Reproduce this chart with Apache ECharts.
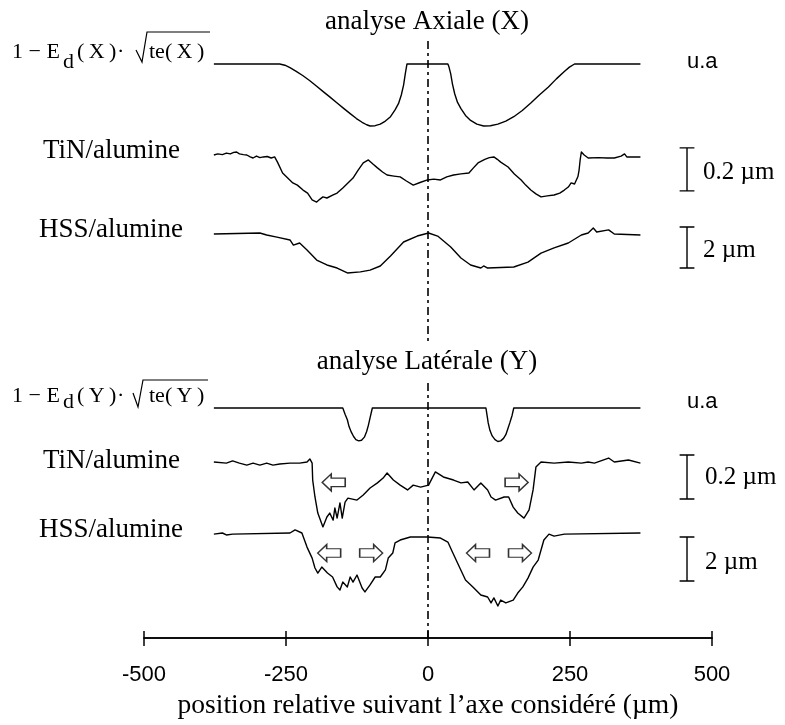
<!DOCTYPE html>
<html><head><meta charset="utf-8">
<script src="https://cdn.jsdelivr.net/npm/echarts@6/dist/echarts.min.js"></script>
<style>html,body{margin:0;padding:0;background:#fff}#c{width:785px;height:725px}</style>
</head><body><div id="c"></div>
<script>
// ---------- DATA ----------
// x : position relative (µm)
const xTickLabels = ['-500', '-250', '0', '250', '500'];

// 1 - Ed(X)*sqrt(te(X))  (u.a)
const edAxial = [[-377,1],[-261,1],[-252,0.98],[-243,0.94],[-232,0.88],[-220,0.81],[-208,0.73],[-196,0.64],[-184,0.55],[-173,0.47],[-160,0.37],[-148,0.28],[-137,0.2],[-126,0.12],[-116,0.06],[-108,0.02],[-102,0],[-93,0.005],[-84,0.03],[-75,0.08],[-66,0.15],[-58,0.26],[-52,0.36],[-47,0.5],[-43,0.66],[-40,0.84],[-38,0.95],[-37,1],[35,1],[37,0.95],[40,0.84],[43,0.68],[47,0.52],[52,0.38],[58,0.28],[66,0.17],[75,0.09],[86,0.03],[98,0],[110,0.005],[123,0.03],[137,0.08],[151,0.15],[166,0.25],[181,0.37],[196,0.5],[212,0.63],[226,0.76],[240,0.88],[249,0.95],[258,1],[374,1]];

// TiN/alumine, axial (µm)
const tinAxial = [[-377,0],[-370,0.005],[-362,0.002],[-355,0.009],[-348,0.005],[-342,0.012],[-337,0.014],[-332,0.005],[-325,0.002],[-319,0],[-313,-0.009],[-308,-0.014],[-302,-0.005],[-296,-0.012],[-290,-0.009],[-283,-0.007],[-276,-0.014],[-270,-0.009],[-265,-0.033],[-256,-0.084],[-247,-0.107],[-238,-0.13],[-230,-0.14],[-220,-0.163],[-212,-0.177],[-204,-0.209],[-196,-0.219],[-190,-0.205],[-185,-0.195],[-178,-0.2],[-167,-0.186],[-160,-0.177],[-150,-0.153],[-141,-0.13],[-132,-0.107],[-123,-0.07],[-114,-0.037],[-105,-0.023],[-97,-0.042],[-89,-0.06],[-80,-0.079],[-72,-0.093],[-60,-0.098],[-49,-0.102],[-38,-0.121],[-26,-0.14],[-14,-0.128],[-1,-0.116],[10,-0.112],[22,-0.116],[33,-0.102],[45,-0.093],[58,-0.088],[72,-0.084],[80,-0.06],[88,-0.037],[100,-0.02],[108,-0.012],[116,-0.009],[122,-0.02],[128,-0.033],[141,-0.056],[152,-0.088],[164,-0.116],[172,-0.14],[181,-0.163],[190,-0.181],[199,-0.195],[210,-0.19],[222,-0.186],[232,-0.177],[240,-0.163],[247,-0.149],[252,-0.13],[258,-0.135],[261,-0.13],[264,-0.1],[266,-0.07],[268,-0.02],[270,0.014],[275,0],[282,-0.014],[300,-0.012],[315,-0.014],[328,-0.014],[340,-0.005],[346,0.005],[350,-0.009],[374,-0.009]];

// HSS/alumine, axial (µm)
const hssAxial = [[-377,0],[-296,0.05],[-284,-0.05],[-266,-0.15],[-243,-0.29],[-237,-0.54],[-226,-0.44],[-213,-0.78],[-196,-1.27],[-178,-1.51],[-160,-1.66],[-142,-1.9],[-119,-1.85],[-102,-1.76],[-84,-1.56],[-66,-1.07],[-43,-0.39],[-19,-0.1],[1,0.05],[17,-0.1],[40,-0.63],[58,-1.17],[75,-1.51],[93,-1.66],[98,-1.56],[105,-1.66],[151,-1.61],[176,-1.37],[199,-0.93],[222,-0.68],[247,-0.44],[270,-0.05],[282,0.05],[291,0.29],[297,0.1],[318,0.2],[328,0],[374,-0.05]];

// 1 - Ed(Y)*sqrt(te(Y))  (u.a)
const edLateral = [[-377,1],[-150,1],[-146,0.9],[-142,0.81],[-139,0.7],[-135,0.61],[-131,0.54],[-127,0.49],[-122,0.47],[-117,0.48],[-112,0.53],[-108,0.62],[-105,0.72],[-102,0.84],[-98,1],[102,1],[104,0.88],[106,0.76],[109,0.64],[113,0.55],[118,0.49],[123,0.46],[128,0.47],[133,0.51],[137,0.57],[140,0.65],[144,0.76],[148,0.88],[151,1],[374,1]];

// TiN/alumine, lateral (µm)
const tinLateral = [[-377,0],[-355,-0.005],[-344,0.005],[-332,-0.005],[-319,-0.014],[-308,-0.005],[-296,-0.014],[-284,-0.005],[-273,-0.014],[-261,-0.009],[-243,-0.005],[-226,-0.005],[-213,0],[-208,0.014],[-204,-0.005],[-203,-0.082],[-199,-0.159],[-194,-0.232],[-185,-0.295],[-178,-0.25],[-173,-0.232],[-167,-0.264],[-164,-0.209],[-160,-0.255],[-155,-0.186],[-151,-0.255],[-146,-0.182],[-141,-0.164],[-125,-0.173],[-114,-0.15],[-102,-0.118],[-89,-0.095],[-79,-0.073],[-72,-0.05],[-61,-0.082],[-49,-0.105],[-36,-0.127],[-26,-0.105],[-13,-0.114],[1,-0.105],[13,-0.045],[27,-0.068],[45,-0.082],[58,-0.095],[70,-0.091],[81,-0.127],[93,-0.095],[105,-0.127],[111,-0.159],[119,-0.173],[134,-0.159],[142,-0.159],[150,-0.205],[158,-0.232],[169,-0.255],[178,-0.218],[185,-0.127],[190,-0.023],[199,0],[222,-0.005],[247,0],[270,-0.005],[282,0],[293,-0.005],[318,0.018],[328,0],[353,0.009],[374,-0.005]];

// HSS/alumine, lateral (µm)
const hssLateral = [[-377,-0.05],[-362,0],[-355,-0.09],[-344,-0.05],[-243,0],[-234,0.14],[-222,0],[-213,-0.64],[-204,-1.14],[-199,-1.59],[-194,-1.82],[-187,-1.55],[-177,-1.82],[-168,-2],[-160,-2.45],[-155,-2.59],[-150,-2.23],[-142,-2.45],[-137,-2],[-132,-2.23],[-125,-1.91],[-116,-2.5],[-111,-2.68],[-102,-2.36],[-93,-2],[-84,-2],[-75,-1.68],[-70,-1.14],[-62,-0.91],[-58,-0.45],[-49,-0.32],[-31,-0.18],[-1,-0.18],[22,-0.23],[35,-0.41],[43,-0.86],[52,-1.36],[66,-2.14],[79,-2.45],[93,-2.82],[105,-2.91],[111,-3.18],[116,-2.95],[123,-3.32],[128,-3.05],[137,-3.18],[150,-3.05],[158,-2.73],[167,-2.45],[176,-2.05],[185,-1.55],[194,-1.23],[199,-0.77],[204,-0.32],[213,-0.05],[222,-0.14],[240,-0.05],[374,0]];

// arrows (x positions, µm)
const tinLatArrowsLeft = [-166];
const tinLatArrowsRight = [156];
const hssLatArrowsLeft = [-174, 88];
const hssLatArrowsRight = [-100, 162];

// scale bars (length in each row's unit)
const scaleBarLengths = [0.2, 2, 0.2, 2];

// texts
const titles = ['analyse Axiale (X)', 'analyse Latérale (Y)'];
const rowLabels = ['TiN/alumine', 'HSS/alumine'];
const scaleLabels = ['0.2 µm', '2 µm'];
const unitLabel = 'u.a';
const xAxisName = 'position relative suivant l\u2019axe considéré (µm)';

// ---------- LAYOUT ----------
const L = 144, W = 568;
const rows = [
  {top: 64,     height: 62,   min: 0,     max: 1,    data: edAxial},
  {top: 144.25, height: 64.5, min: -0.25, max: 0.05, data: tinAxial},
  {top: 223.75, height: 61.5, min: -2.5,  max: 0.5,  data: hssAxial},
  {top: 408,    height: 62,   min: 0,     max: 1,    data: edLateral},
  {top: 451,    height: 77,   min: -0.3,  max: 0.05, data: tinLateral},
  {top: 522,    height: 88,   min: -3.5,  max: 0.5,  data: hssLateral}
];
const barX = 456, capHalf = 13;
const bars = [ {row: 1, top: 0.033}, {row: 2, top: 0.34}, {row: 4, top: 0.032}, {row: 5, top: -0.18} ];

const serif = '"Liberation Serif", "Times New Roman", serif';
const sans = '"Liberation Sans", Arial, sans-serif';

const grids = [], xAxes = [], yAxes = [], series = [];
rows.forEach((r, i) => {
  grids.push({left: L, width: W, top: r.top, height: r.height, outerBoundsMode: 'none'});
  xAxes.push({gridIndex: i, type: 'value', min: -500, max: 500, show: false});
  yAxes.push({gridIndex: i, type: 'value', min: r.min, max: r.max, show: false});
  series.push({
    type: 'line', xAxisIndex: i, yAxisIndex: i, data: r.data, showSymbol: false, clip: false,
    lineStyle: {color: '#000', width: 1.4, join: 'round'}, silent: true, z: 3
  });
});
// axis grid
grids.push({left: L, width: W, top: 40, height: 598, outerBoundsMode: 'none'});
const axisCommon = {gridIndex: 6, type: 'value', min: -500, max: 500, interval: 250, position: 'bottom',
  splitLine: {show: false},
  axisLine: {show: true, onZero: false, lineStyle: {color: '#000', width: 1.5}}};
xAxes.push(Object.assign({}, axisCommon, {
  axisTick: {show: true, inside: false, length: 8, lineStyle: {color: '#000', width: 1.5}},
  axisLabel: {show: true, margin: 26, fontFamily: sans, fontSize: 22, color: '#000',
    formatter: (v) => xTickLabels[Math.round((v + 500) / 250)]},
  name: xAxisName, nameLocation: 'middle', nameGap: 54,
  nameTextStyle: {fontFamily: serif, fontSize: 27.5, color: '#000'}
}));
xAxes.push(Object.assign({}, axisCommon, {
  axisTick: {show: true, inside: true, length: 7, lineStyle: {color: '#000', width: 1.5}},
  axisLabel: {show: false}
}));
yAxes.push({gridIndex: 6, type: 'value', min: 0, max: 1, show: false});

// dash-dot reference line at x = 0
series.push({type: 'line', xAxisIndex: 6, yAxisIndex: 6, data: [[0, 0], [0, 1]], showSymbol: false,
  lineStyle: {color: '#000', width: 1.6, type: [8, 4, 3, 4]}, silent: true, z: 2});

// scale bars
bars.forEach((b, k) => {
  const t = b.top, bt = b.top - scaleBarLengths[k];
  series.push({type: 'line', xAxisIndex: b.row, yAxisIndex: b.row, showSymbol: false, clip: false, silent: true,
    data: [[barX - capHalf, t], [barX + capHalf, t], [barX, t], [barX, bt], [barX - capHalf, bt], [barX + capHalf, bt]],
    lineStyle: {color: '#000', width: 1.4}});
});

// arrows
const leftArrow = 'path://M0,8L9,0L9,4L23,4L23,12L9,12L9,16Z';
const rightArrow = 'path://M23,8L14,0L14,4L0,4L0,12L14,12L14,16Z';
function arrows(xs, row, level, sym) {
  series.push({type: 'scatter', xAxisIndex: row, yAxisIndex: row, data: xs.map(x => [x, level]),
    symbol: sym, symbolSize: [23, 17], silent: true, clip: false, z: 4,
    itemStyle: {color: '#fff', borderColor: '#000', borderWidth: 1.4}});
}
arrows(tinLatArrowsLeft, 4, -0.093, leftArrow);
arrows(tinLatArrowsRight, 4, -0.093, rightArrow);
arrows(hssLatArrowsLeft, 5, -0.91, leftArrow);
arrows(hssLatArrowsRight, 5, -0.91, rightArrow);

// ---------- TEXT ----------
function txt(text, x, y, fontSize, family, align, extra) {
  return Object.assign({type: 'text', x: x, y: y, z: 100, silent: true,
    style: Object.assign({text: text, fill: '#000', font: fontSize + 'px ' + family,
      align: align || 'left', textAlign: align || 'left', verticalAlign: 'middle', textVerticalAlign: 'middle'}, extra || {})});
}
const g = [];
g.push(txt(titles[0], 427, 21.5, 27, serif, 'center'));
g.push(txt(titles[1], 427, 361.5, 27, serif, 'center', {backgroundColor: '#fff', padding: [5, 4]}));
g.push(txt(rowLabels[0], 43, 150.5, 27, serif));
g.push(txt(rowLabels[1], 39, 229.5, 27, serif));
g.push(txt(rowLabels[0], 43, 460.5, 27, serif));
g.push(txt(rowLabels[1], 39, 529.5, 27, serif));
g.push(txt(unitLabel, 687, 62, 22, sans));
g.push(txt(unitLabel, 687, 402, 22, sans));
g.push(txt(scaleLabels[0], 703, 172, 25, serif));
g.push(txt(scaleLabels[1], 703, 250, 25, serif));
g.push(txt(scaleLabels[0], 705, 477, 25, serif));
g.push(txt(scaleLabels[1], 705, 562, 25, serif));
// equation labels
function eqLabel(v, base, subBase, rad) {
  g.push(txt('1 \u2212 E', 12, base - 7, 22, serif));
  g.push(txt('d', 63, subBase - 7, 22, serif));
  g.push(txt('(\u2009' + v + '\u2009)', 77, base - 7, 22, serif));
  g.push(txt('\u00b7', 117, base - 7, 22, serif));
  g.push(txt('te(\u2009' + v + '\u2009)', 149, base - 7, 22, serif));
  g.push({type: 'polyline', z: 100, silent: true, shape: {points: rad},
    style: {stroke: '#000', lineWidth: 1.2, fill: null}});
}
eqLabel('X', 59, 69, [[136, 50], [142, 62], [147, 32], [210, 32]]);
eqLabel('Y', 403, 409, [[133, 393], [138, 407], [143, 380], [208, 380]]);

const chart = echarts.init(document.getElementById('c'), null, {renderer: 'canvas'});
chart.setOption({
  animation: false, backgroundColor: '#fff',
  grid: grids, xAxis: xAxes, yAxis: yAxes, series: series, graphic: {elements: g}
});
</script></body></html>
